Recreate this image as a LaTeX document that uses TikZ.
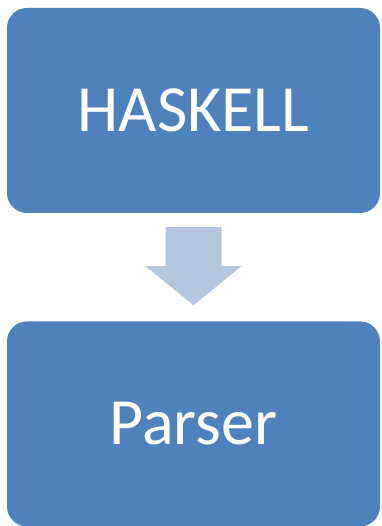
\documentclass[tikz,border=0pt]{standalone}
\usepackage{fontspec}
\setmainfont{Carlito}
\usepackage{tikz}
\usetikzlibrary{positioning}
\definecolor{boxblue}{RGB}{79,129,189}
\definecolor{arrowblue}{RGB}{180,197,222}

\tikzset{
  stage/.style={rectangle, rounded corners=20pt, fill=boxblue, text=white,
    minimum width=373pt, minimum height=205pt, inner sep=0pt,
    font=\fontsize{66}{72}\selectfont},
}

\begin{document}
\begin{tikzpicture}[x=1pt, y=1pt]
	\useasboundingbox (0,0) rectangle (381,-526);
	\node[stage] (haskell) at (193.5,-110.5) {HASKELL};
	\node[stage, below=108pt of haskell] (parser) {Parser};
	% block arrow between the two stages
	\coordinate (top) at ([yshift=-14pt]haskell.south);
	\coordinate (tip) at ([yshift=16pt]parser.north);
	\fill[arrowblue] ([xshift=-28pt]top) -- ([xshift=28pt]top)
		-- ([xshift=28pt, yshift=39pt]tip) -- ([xshift=48pt, yshift=39pt]tip)
		-- (tip) -- ([xshift=-48pt, yshift=39pt]tip)
		-- ([xshift=-28pt, yshift=39pt]tip) -- cycle;
\end{tikzpicture}
\end{document}
